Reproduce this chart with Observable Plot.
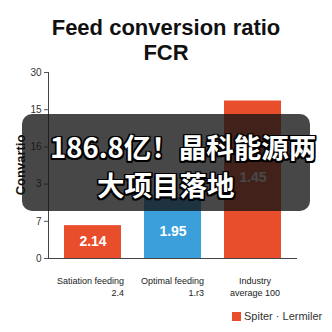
<!DOCTYPE html>
<html>
<head>
<meta charset="utf-8">
<script src="https://cdn.jsdelivr.net/npm/d3@7"></script>
<script src="https://cdn.jsdelivr.net/npm/@observablehq/plot@0.6"></script>
<style>
  html, body { margin: 0; padding: 0; background: #fff; }
  body { width: 332px; height: 332px; position: relative; overflow: hidden; font-family: "Liberation Sans", Arial, sans-serif; }
  #title { position: absolute; left: 0; top: 15px; width: 332px; text-align: center; font-weight: bold; font-size: 22px; line-height: 25px; color: #111; }
  #chart { position: absolute; left: 0; top: 62px; }
  #legend { position: absolute; left: 232px; top: 310px; font-size: 11px; color: #333; display: flex; align-items: center; }
  #legend .sw { width: 9px; height: 9px; margin-right: 3px; }
  #overlay { position: absolute; left: 22px; top: 114px; width: 288px; height: 97px; border-radius: 10px; background: rgba(22,22,22,0.79); }
  #ylabel { position: absolute; left: 20px; top: 165px; width: 0; height: 0; }
  #ylabel span { position: absolute; left: 0; top: 0; transform: translate(-50%, -50%) rotate(-90deg); white-space: nowrap; font-weight: bold; font-size: 13px; color: #111; }
  .ol { position: absolute; color: #fff; font-family: "Noto Sans CJK SC", sans-serif; font-weight: 700; font-size: 27.5px; line-height: 37px; white-space: nowrap;
        text-shadow: -1.5px -1.5px 0 #000, 1.5px -1.5px 0 #000, -1.5px 1.5px 0 #000, 1.5px 1.5px 0 #000, 0 1.5px 0 #000, 0 -1.5px 0 #000, 1.5px 0 0 #000, -1.5px 0 0 #000; }
</style>
</head>
<body>
<div id="title">Feed conversion ratio<br>FCR</div>
<div id="chart"></div>
<div id="legend"></div>
<div id="overlay"></div>
<div id="ylabel"><span></span></div>
<div class="ol" id="l1" style="left:50px; top:128px;"></div>
<div class="ol" id="l2" style="left:97px; top:166px;"></div>
<script>
const categories = ["Satiation feeding", "Optimal feeding", "Industry"];
const xLine1 = ["Satiation feeding", "Optimal feeding", "Industry"];
const xLine2 = ["2.4", "1.r3", "average 100"];
const values = [5.3, 9.8, 25.4];
const valueLabels = ["2.14", "1.95", "1.45"];
const labelAt = [2.8, 4.4, 13.1];
const colors = ["#E84E2C", "#3A9FDB", "#E84E2C"];
const yTicks = [0, 6, 12, 18, 24, 30];
const yTickLabels = ["0", "7", "3", "16", "15", "30"];
const yLabel = "Convartio";
const legendLabel = "Spiter · Lermiler";
const overlayLines = ["186.8亿！晶科能源两", "大项目落地"];

const data = categories.map((c, i) => ({
  cat: c, value: values[i], label: valueLabels[i], at: labelAt[i], color: colors[i],
  l1: xLine1[i], l2: xLine2[i], idx: i
}));

const chart = Plot.plot({
  width: 332,
  height: 236,
  marginLeft: 48,
  marginRight: 35,
  marginTop: 10,
  marginBottom: 40,
  style: { fontFamily: "Liberation Sans, Arial, sans-serif", fontSize: "10px", color: "#333", background: "transparent" },
  x: { domain: categories, paddingInner: 0.29, paddingOuter: 0.2, axis: null },
  y: { domain: [0, 30], axis: null },
  marks: [
    Plot.barY(data, { x: "cat", y: "value", fill: "color" }),
    Plot.axisY({ ticks: yTicks, tickFormat: (d) => yTickLabels[yTicks.indexOf(d)], tickSize: 4, tickPadding: 3, label: null, stroke: "#555", fill: "#333", fontSize: 10 }),
    Plot.frame({ anchor: "left", stroke: "#444" }),
    Plot.ruleY([0], { stroke: "#444" }),
    Plot.text(data, { x: "cat", y: "at", text: "label", fill: "white", fontWeight: "bold", fontSize: 14 }),
    Plot.text(data.filter(d => d.idx < 2), { x: "cat", y: 0, text: d => d.l1 + "\n" + d.l2, textAnchor: "end", dx: 31, dy: 17, lineAnchor: "top", lineHeight: 1.3, fill: "#222", fontSize: 9 }),
    Plot.text(data.filter(d => d.idx === 2), { x: "cat", y: 0, text: d => d.l1 + "\n" + d.l2, textAnchor: "middle", dx: 2, dy: 17, lineAnchor: "top", lineHeight: 1.3, fill: "#222", fontSize: 9 })
  ]
});
document.getElementById("chart").appendChild(chart);

document.querySelector("#ylabel span").textContent = yLabel;
const lg = document.getElementById("legend");
lg.innerHTML = `<div class="sw" style="background:${colors[0]}"></div><span>${legendLabel}</span>`;
document.getElementById("l1").textContent = overlayLines[0];
document.getElementById("l2").textContent = overlayLines[1];
</script>
</body>
</html>
